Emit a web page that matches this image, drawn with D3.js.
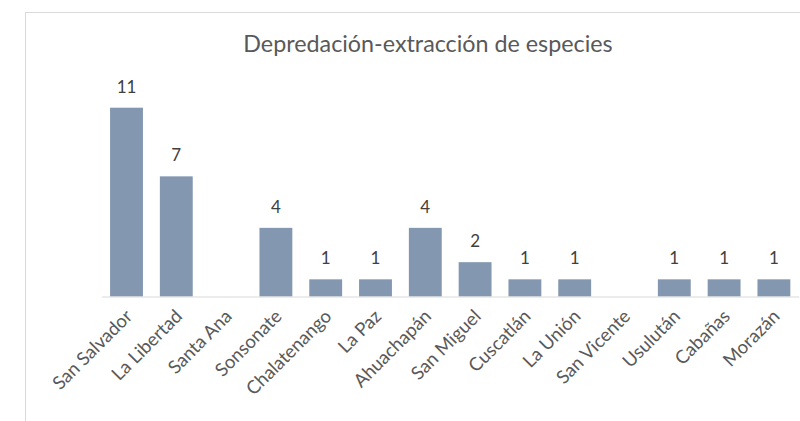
<!DOCTYPE html>
<html><head><meta charset="utf-8">
<script src="https://cdn.jsdelivr.net/npm/d3@7"></script>
<style>body{margin:0;background:#fff}svg{display:block}</style>
</head><body>
<script>
const categories = ["San Salvador","La Libertad","Santa Ana","Sonsonate","Chalatenango","La Paz","Ahuachapán","San Miguel","Cuscatlán","La Unión","San Vicente","Usulután","Cabañas","Morazán"];
const values = [11,7,0,4,1,1,4,2,1,1,0,1,1,1];
const title = "Depredación-extracción de especies";

const W = 800, H = 421;
const svg = d3.select("body").append("svg").attr("width", W).attr("height", H);
const font = "Lato, 'Open Sans', sans-serif";

svg.append("rect").attr("x",25.5).attr("y",12.5).attr("width",900).attr("height",500)
  .attr("fill","#fff").attr("stroke","#d9d9d9");

const x = d3.scaleBand().domain(categories).range([101.6, 798.8]).paddingInner(0.34).paddingOuter(0.17);
const y = d3.scaleLinear().domain([0, 11]).range([296.5, 107.7]);

svg.append("text").attr("x",428).attr("y",52).attr("text-anchor","middle")
  .attr("font-family",font).attr("font-size",23.3).attr("fill","#595959").text(title);

const data = categories.map((c,i)=>({c, v: values[i]}));

svg.selectAll("rect.bar").data(data.filter(d=>d.v>0)).join("rect").attr("class","bar")
  .attr("x", d=>x(d.c)).attr("width", x.bandwidth())
  .attr("y", d=>y(d.v)).attr("height", d=>y(0)-y(d.v)).attr("fill","#8497b0");

svg.selectAll("text.val").data(data.filter(d=>d.v>0)).join("text").attr("class","val")
  .attr("x", d=>x(d.c)+x.bandwidth()/2).attr("y", d=>y(d.v)-15)
  .attr("text-anchor","middle").attr("font-family",font).attr("font-size",17).attr("fill","#404040")
  .text(d=>d.v);

const axis = d3.axisBottom(x).tickSize(0).tickPadding(0);
const g = svg.append("g").attr("transform",`translate(0,${y(0)})`).call(axis);
g.select(".domain").attr("stroke","#d9d9d9");
g.selectAll(".tick text")
  .attr("font-family",font).attr("font-size",18.5).attr("fill","#595959")
  .attr("text-anchor","end").attr("dy",null).attr("y",null)
  .attr("transform","translate(7,21) rotate(-45)");
</script>
</body></html>
